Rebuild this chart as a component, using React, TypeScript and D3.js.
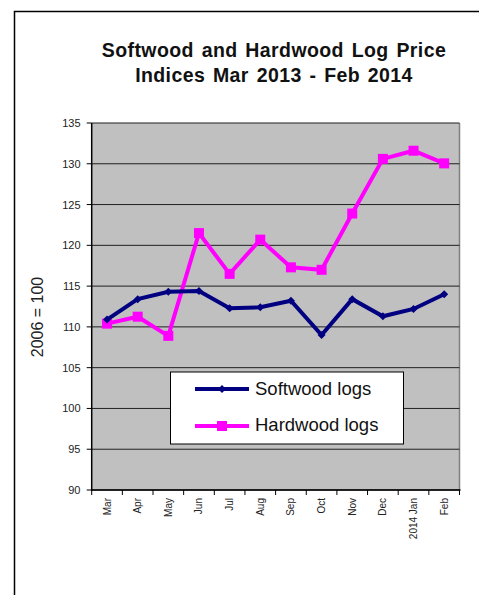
import React from "react";
import * as d3 from "d3";

const months = ["Mar", "Apr", "May", "Jun", "Jul", "Aug", "Sep", "Oct", "Nov", "Dec", "2014 Jan", "Feb"];
const softwood = [110.9, 113.4, 114.3, 114.4, 112.3, 112.4, 113.2, 109.0, 113.4, 111.3, 112.2, 114.0];
const hardwood = [110.4, 111.25, 108.9, 121.5, 116.5, 120.7, 117.3, 117.0, 123.9, 130.6, 131.6, 130.05];
const yTicks = [90, 95, 100, 105, 110, 115, 120, 125, 130, 135];
const seriesNames = ["Softwood logs", "Hardwood logs"];

const W = 479, H = 595;
const left = 91.7, right = 459.5, top = 123, bottom = 490;
const FONT = "'Liberation Sans', Arial, sans-serif";

export default function App() {
  const x = d3.scaleBand<string>().domain(months).range([left, right]);
  const y = d3.scaleLinear().domain([90, 135]).range([bottom, top]);
  const cx = (m: string) => (x(m) as number) + x.bandwidth() / 2;
  const line = d3
    .line<number>()
    .x((_, i) => cx(months[i]))
    .y((v) => y(v));

  return (
    <svg width={W} height={H} style={{ position: "absolute", left: 0, top: 0 }} fontFamily={FONT}>
      <rect x={0} y={0} width={W} height={H} fill="#fff" />
      <path d={`M14.5,${H} V11.5 H${W}`} fill="none" stroke="#000" strokeWidth={1.5} />
      <text x={274} y={57} textAnchor="middle" fontSize={19.5} fontWeight="bold" letterSpacing={0.4} wordSpacing={2} fill="#111">
        Softwood and Hardwood Log Price
      </text>
      <text x={274} y={82} textAnchor="middle" fontSize={19.5} fontWeight="bold" letterSpacing={0.4} wordSpacing={2} fill="#111">
        Indices  Mar 2013 - Feb 2014
      </text>
      <rect x={left} y={top} width={right - left} height={bottom - top} fill="#c0c0c0" />
      <line x1={right} x2={right} y1={top} y2={bottom} stroke="#808080" strokeWidth={1.5} />
      {yTicks.map((t) => (
        <g key={t}>
          <line x1={left} x2={right} y1={y(t)} y2={y(t)} stroke="#202020" strokeWidth={1} />
          <line x1={left - 5} x2={left} y1={y(t)} y2={y(t)} stroke="#000" strokeWidth={1} />
          <text x={80.5} y={y(t) + 4} textAnchor="end" fontSize={11} fill="#222">
            {t}
          </text>
        </g>
      ))}
      <line x1={left} x2={left} y1={top} y2={bottom + 1} stroke="#000" strokeWidth={1.5} />
      <line x1={left} x2={right + 1} y1={bottom} y2={bottom} stroke="#000" strokeWidth={1.5} />
      {[...months.map((m) => x(m) as number), right].map((tx, i) => (
        <line key={i} x1={tx} x2={tx} y1={bottom} y2={bottom + 5} stroke="#000" strokeWidth={1} />
      ))}
      {months.map((m) => (
        <text
          key={m}
          transform={`translate(${cx(m) + 3.5},${bottom + 8}) rotate(-90)`}
          textAnchor="end"
          fontSize={10}
          fill="#222"
        >
          {m}
        </text>
      ))}
      <text transform={`translate(42.5,317) rotate(-90)`} textAnchor="middle" fontSize={16} fill="#222">
        2006 = 100
      </text>
      <path d={line(hardwood) || ""} fill="none" stroke="#ff00ff" strokeWidth={4} />
      {hardwood.map((v, i) => (
        <rect key={i} x={cx(months[i]) - 5} y={y(v) - 5} width={10} height={10} fill="#ff00ff" />
      ))}
      <path d={line(softwood) || ""} fill="none" stroke="#000080" strokeWidth={4} />
      {softwood.map((v, i) => (
        <path
          key={i}
          d={`M${cx(months[i])},${y(v) - 4}l4,4l-4,4l-4,-4z`}
          fill="#000080"
        />
      ))}
      <rect x={170.5} y={372} width={233} height={72} fill="#fff" stroke="#000" strokeWidth={1} />
      <line x1={195} x2={249} y1={389} y2={389} stroke="#000080" strokeWidth={4} />
      <path d="M222,385l4,4l-4,4l-4,-4z" fill="#000080" />
      <text x={255} y={395} fontSize={18.5} fill="#111">
        {seriesNames[0]}
      </text>
      <line x1={195} x2={249} y1={426} y2={426} stroke="#ff00ff" strokeWidth={4} />
      <rect x={217} y={421} width={10} height={10} fill="#ff00ff" />
      <text x={255} y={431} fontSize={18.5} fill="#111">
        {seriesNames[1]}
      </text>
    </svg>
  );
}
